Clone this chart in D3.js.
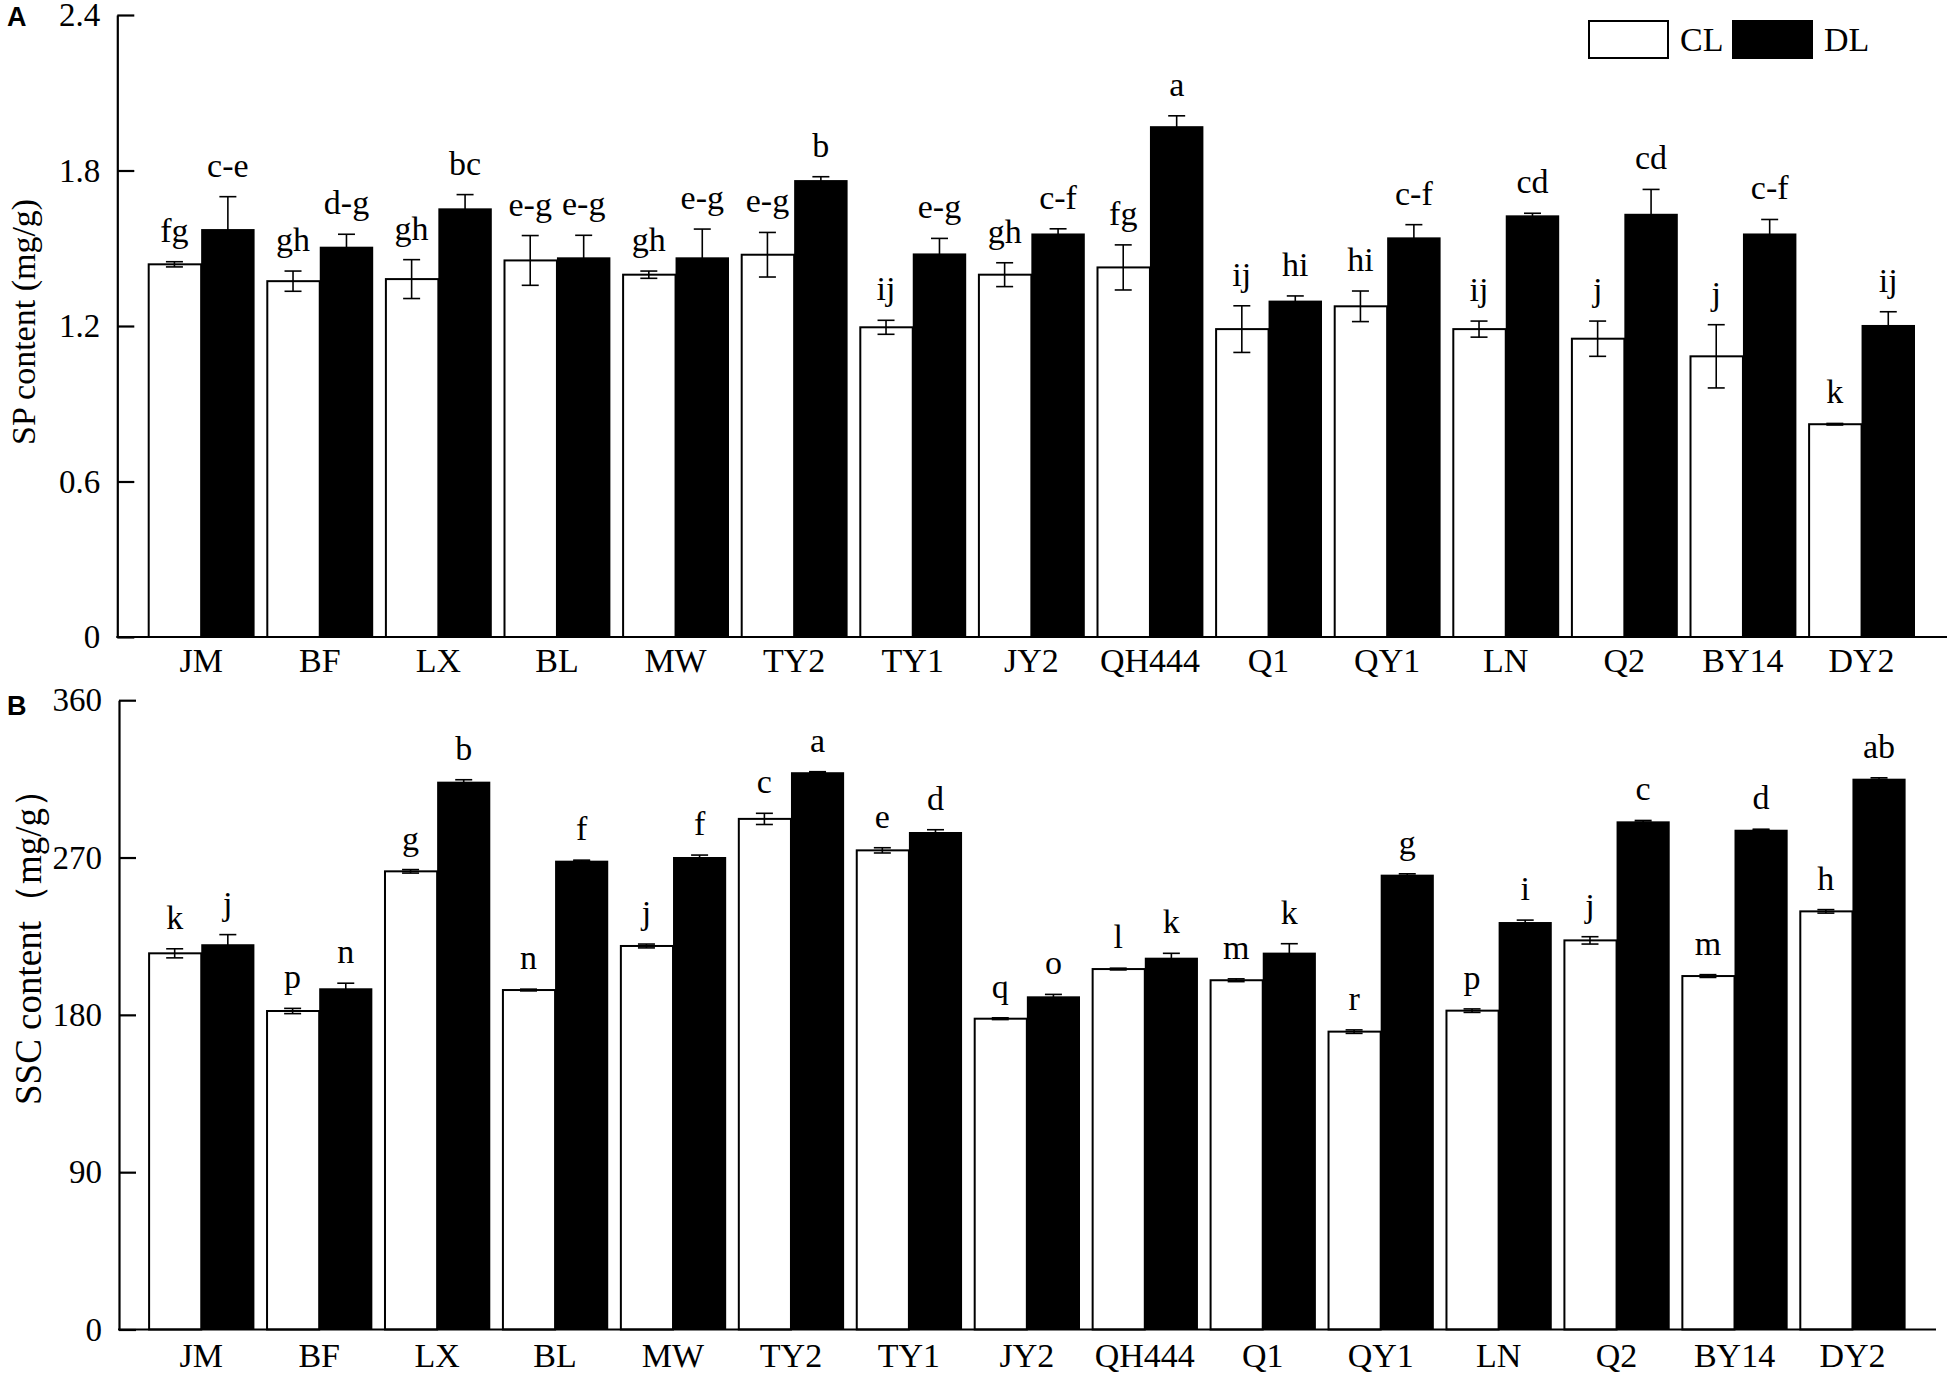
<!DOCTYPE html>
<html>
<head>
<meta charset="utf-8">
<script src="https://cdn.jsdelivr.net/npm/d3@7"></script>
<style>
  html, body { margin: 0; padding: 0; background: #fff; }
  svg { display: block; }
  text { font-family: "Liberation Serif", "Times New Roman", serif; fill: #000; }
</style>
</head>
<body>
<svg id="chart" width="1950" height="1376"></svg>
<script>
// ---------------- DATA ----------------
const categories = ["JM","BF","LX","BL","MW","TY2","TY1","JY2","QH444","Q1","QY1","LN","Q2","BY14","DY2"];
const seriesNames = ["CL","DL"];

// Panel A: SP content (mg/g)
const spCL      = [1.438,1.373,1.381,1.453,1.398,1.475,1.195,1.398,1.426,1.188,1.276,1.188,1.151,1.083,0.821];
const spCLerr   = [0.010,0.039,0.075,0.096,0.014,0.086,0.027,0.046,0.087,0.090,0.059,0.031,0.068,0.122,0.003];
const spDL      = [1.574,1.506,1.654,1.465,1.465,1.763,1.480,1.557,1.971,1.298,1.542,1.627,1.633,1.557,1.204];
const spDLerr   = [0.125,0.048,0.053,0.085,0.109,0.013,0.058,0.018,0.040,0.018,0.049,0.008,0.094,0.054,0.051];
const spCLlabel = ["fg","gh","gh","e-g","gh","e-g","ij","gh","fg","ij","hi","ij","j","j","k"];
const spDLlabel = ["c-e","d-g","bc","e-g","e-g","b","e-g","c-f","a","hi","c-f","cd","cd","c-f","ij"];
const spTicks   = [0, 0.6, 1.2, 1.8, 2.4];
const spTickLabels = ["0","0.6","1.2","1.8","2.4"];

// Panel B: SSC content (mg/g)
const sscCL      = [215.2,182.2,262.1,194.2,219.4,292.1,274.1,177.8,206.2,199.8,170.4,182.4,222.6,202.2,239.2];
const sscCLerr   = [2.6,1.5,1.0,0.5,1.1,3.2,1.5,0.5,0.5,0.8,1.0,1.0,2.1,0.8,1.0];
const sscDL      = [220.4,195.2,313.4,268.2,270.3,318.8,284.6,190.6,212.7,215.6,260.2,233.1,290.7,285.9,315.1];
const sscDLerr   = [5.5,2.9,1.1,0.3,1.1,0.3,1.3,1.1,2.5,5.1,0.5,1.1,0.5,0.3,0.5];
const sscCLlabel = ["k","p","g","n","j","c","e","q","l","m","r","p","j","m","h"];
const sscDLlabel = ["j","n","b","f","f","a","d","o","k","k","g","i","c","d","ab"];
const sscTicks   = [0, 90, 180, 270, 360];
const sscTickLabels = ["0","90","180","270","360"];

// ---------------- DRAW ----------------
const svg = d3.select("#chart");
svg.append("rect").attr("width",1950).attr("height",1376).attr("fill","#fff");

function panel(cfg) {
  const g = svg.append("g");
  const y = d3.scaleLinear().domain([0, cfg.ticks[cfg.ticks.length-1]]).range([cfg.bottom, cfg.top]);
  const x = d3.scaleBand().domain(categories).range([cfg.barStart, cfg.barEnd]).paddingInner(0.0987).paddingOuter(0);
  const xs = d3.scaleBand().domain(seriesNames).range([0, x.bandwidth()]).padding(0);

  const rows = categories.map((c, i) => ({
    cat: c,
    vals: [
      {s: "CL", v: cfg.cl[i], e: cfg.clErr[i], lab: cfg.clLab[i]},
      {s: "DL", v: cfg.dl[i], e: cfg.dlErr[i], lab: cfg.dlLab[i]}
    ]
  }));

  const grp = g.selectAll("g.grp").data(rows).join("g")
    .attr("transform", d => `translate(${x(d.cat)},0)`);

  // bars
  grp.selectAll("rect").data(d => d.vals).join("rect")
    .attr("x", d => xs(d.s) + (d.s === "CL" ? 1 : 0))
    .attr("width", d => xs.bandwidth() - (d.s === "CL" ? 1 : 0))
    .attr("y", d => y(d.v))
    .attr("height", d => y(0) - y(d.v))
    .attr("fill", d => d.s === "CL" ? "#fff" : "#000")
    .attr("stroke", "#000")
    .attr("stroke-width", d => d.s === "CL" ? 2 : 0);

  // error bars
  const cap = 8.5;
  const eb = grp.selectAll("g.eb").data(d => d.vals).join("g")
    .attr("transform", d => `translate(${xs(d.s) + xs.bandwidth()/2},0)`);
  eb.append("line").attr("x1",0).attr("x2",0)
    .attr("y1", d => y(d.v - d.e)).attr("y2", d => y(d.v + d.e))
    .attr("stroke","#000").attr("stroke-width",1.6);
  eb.append("line").attr("x1",-cap).attr("x2",cap)
    .attr("y1", d => y(d.v + d.e)).attr("y2", d => y(d.v + d.e))
    .attr("stroke","#000").attr("stroke-width",1.6);
  eb.append("line").attr("x1",-cap).attr("x2",cap)
    .attr("y1", d => y(d.v - d.e)).attr("y2", d => y(d.v - d.e))
    .attr("stroke","#000").attr("stroke-width",1.6);

  // significance letters
  eb.append("text")
    .attr("x", 0)
    .attr("y", d => y(d.v + d.e) - 20)
    .attr("text-anchor","middle")
    .attr("font-size", 34)
    .text(d => d.lab);

  // y axis
  const yAxis = d3.axisLeft(y).tickValues(cfg.ticks)
    .tickFormat((d, i) => cfg.tickLabels[i])
    .tickSizeInner(-17).tickSizeOuter(0).tickPadding(17);
  const ya = g.append("g").attr("transform", `translate(${cfg.axisX},0)`).call(yAxis);
  ya.select(".domain").attr("stroke-width", 2.2);
  ya.selectAll(".tick line").attr("stroke-width", 2.2);
  ya.selectAll(".tick text").attr("font-family", "Liberation Serif").attr("font-size", 33).attr("fill","#000");

  // x axis
  g.append("line").attr("x1", cfg.axisX - 1).attr("x2", cfg.axisEnd)
    .attr("y1", y(0)).attr("y2", y(0)).attr("stroke","#000").attr("stroke-width",2.2);
  const xAxis = d3.axisBottom(x).tickSize(0).tickPadding(0);
  const xa = g.append("g").attr("transform", `translate(0,${y(0)})`).call(xAxis);
  xa.select(".domain").remove();
  xa.selectAll(".tick text").attr("font-family","Liberation Serif").attr("font-size",34)
    .attr("fill","#000").attr("dy", null).attr("y", cfg.xLabelOffset);

  // y title
  g.append("text")
    .attr("transform", `translate(${cfg.titleX},${cfg.titleY}) rotate(-90)`)
    .attr("text-anchor","start")
    .attr("font-size", cfg.titleSize)
    .text(cfg.title);

  // panel letter
  g.append("text").attr("x", 7).attr("y", cfg.letterY)
    .style("font-family", "'Liberation Sans', Arial, sans-serif")
    .attr("font-weight","bold").attr("font-size", 27)
    .text(cfg.letter);
}

panel({
  letter: "A", letterY: 26,
  title: "SP content (mg/g)", titleX: 35, titleY: 445, titleSize: 34,
  top: 15, bottom: 637, axisX: 117.3, axisEnd: 1947, barStart: 147.7, barEnd: 1915,
  xLabelOffset: 35,
  ticks: spTicks, tickLabels: spTickLabels,
  cl: spCL, clErr: spCLerr, dl: spDL, dlErr: spDLerr, clLab: spCLlabel, dlLab: spDLlabel
});

panel({
  letter: "B", letterY: 715,
  title: "SSC content（mg/g）", titleX: 41, titleY: 1105, titleSize: 37,
  top: 700.2, bottom: 1329.5, axisX: 119, axisEnd: 1936, barStart: 148.1, barEnd: 1905.6,
  xLabelOffset: 37,
  ticks: sscTicks, tickLabels: sscTickLabels,
  cl: sscCL, clErr: sscCLerr, dl: sscDL, dlErr: sscDLerr, clLab: sscCLlabel, dlLab: sscDLlabel
});

// legend
const legend = svg.append("g");
const legendItems = [
  {name: seriesNames[0], x: 1589, fill: "#fff"},
  {name: seriesNames[1], x: 1733, fill: "#000"}
];
legend.selectAll("rect").data(legendItems).join("rect")
  .attr("x", d => d.x).attr("y", 21).attr("width", 79).attr("height", 37)
  .attr("fill", d => d.fill).attr("stroke","#000").attr("stroke-width",2);
legend.selectAll("text").data(legendItems).join("text")
  .attr("x", d => d.x + 91).attr("y", 51)
  .attr("font-size", 34)
  .text(d => d.name);
</script>
</body>
</html>
